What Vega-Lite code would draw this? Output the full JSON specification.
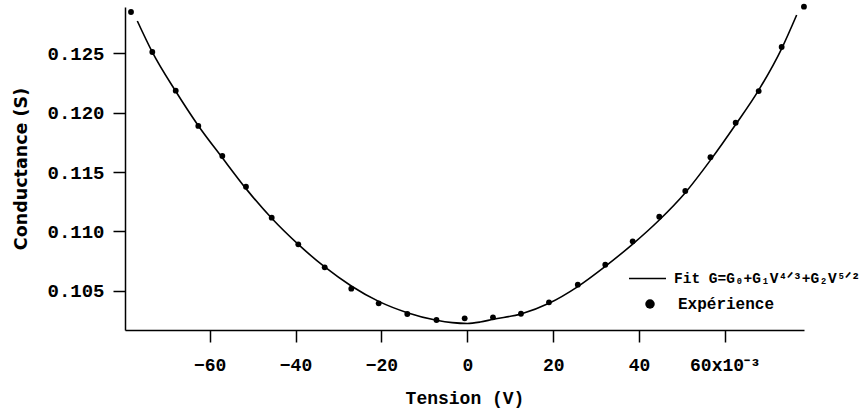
{
  "$schema": "https://vega.github.io/schema/vega-lite/v6.json",
  "width": 679,
  "height": 323,
  "autosize": {"type": "none"},
  "padding": {"left": 125, "top": 7, "right": 64, "bottom": 84},
  "background": "white",
  "config": {
    "view": {"stroke": null},
    "axis": {
      "grid": false,
      "labelFont": "Liberation Mono",
      "labelFontWeight": "bold",
      "labelFontSize": 18,
      "labelColor": "black",
      "domainColor": "black",
      "domainWidth": 1.5,
      "tickColor": "black",
      "tickWidth": 1.5,
      "tickSize": 12,
      "titleColor": "black"
    },
    "legend": {
      "labelFont": "Liberation Mono",
      "labelFontWeight": "bold",
      "labelFontSize": 16,
      "labelColor": "black",
      "labelLimit": 400
    }
  },
  "datasets": {
    "exp": [
      {"V": -78.30, "G": 0.12848, "expLabel": "Expérience"},
      {"V": -73.34, "G": 0.12511, "expLabel": "Expérience"},
      {"V": -67.89, "G": 0.12185, "expLabel": "Expérience"},
      {"V": -62.63, "G": 0.11888, "expLabel": "Expérience"},
      {"V": -57.04, "G": 0.11635, "expLabel": "Expérience"},
      {"V": -51.53, "G": 0.11376, "expLabel": "Expérience"},
      {"V": -45.54, "G": 0.11115, "expLabel": "Expérience"},
      {"V": -39.35, "G": 0.10891, "expLabel": "Expérience"},
      {"V": -33.20, "G": 0.10697, "expLabel": "Expérience"},
      {"V": -27.01, "G": 0.10517, "expLabel": "Expérience"},
      {"V": -20.63, "G": 0.10394, "expLabel": "Expérience"},
      {"V": -13.97, "G": 0.10304, "expLabel": "Expérience"},
      {"V": -7.17, "G": 0.10253, "expLabel": "Expérience"},
      {"V": -0.61, "G": 0.10267, "expLabel": "Expérience"},
      {"V": 5.98, "G": 0.10276, "expLabel": "Expérience"},
      {"V": 12.50, "G": 0.10306, "expLabel": "Expérience"},
      {"V": 19.02, "G": 0.10402, "expLabel": "Expérience"},
      {"V": 25.73, "G": 0.10551, "expLabel": "Expérience"},
      {"V": 32.13, "G": 0.10719, "expLabel": "Expérience"},
      {"V": 38.51, "G": 0.10916, "expLabel": "Expérience"},
      {"V": 44.70, "G": 0.11123, "expLabel": "Expérience"},
      {"V": 50.76, "G": 0.11340, "expLabel": "Expérience"},
      {"V": 56.62, "G": 0.11625, "expLabel": "Expérience"},
      {"V": 62.49, "G": 0.11915, "expLabel": "Expérience"},
      {"V": 67.85, "G": 0.12182, "expLabel": "Expérience"},
      {"V": 73.20, "G": 0.12553, "expLabel": "Expérience"},
      {"V": 78.39, "G": 0.12893, "expLabel": "Expérience"}
    ],
    "fit": [
      {"V": -76.83, "G": 0.12772, "fitLabel": "Fit G=G₀+G₁V⁴ᐟ³+G₂V⁵ᐟ²"},
      {"V": -73.34, "G": 0.12510, "fitLabel": "Fit G=G₀+G₁V⁴ᐟ³+G₂V⁵ᐟ²"},
      {"V": -67.89, "G": 0.12180, "fitLabel": "Fit G=G₀+G₁V⁴ᐟ³+G₂V⁵ᐟ²"},
      {"V": -62.63, "G": 0.11890, "fitLabel": "Fit G=G₀+G₁V⁴ᐟ³+G₂V⁵ᐟ²"},
      {"V": -57.04, "G": 0.11620, "fitLabel": "Fit G=G₀+G₁V⁴ᐟ³+G₂V⁵ᐟ²"},
      {"V": -51.53, "G": 0.11360, "fitLabel": "Fit G=G₀+G₁V⁴ᐟ³+G₂V⁵ᐟ²"},
      {"V": -45.54, "G": 0.11110, "fitLabel": "Fit G=G₀+G₁V⁴ᐟ³+G₂V⁵ᐟ²"},
      {"V": -39.35, "G": 0.10890, "fitLabel": "Fit G=G₀+G₁V⁴ᐟ³+G₂V⁵ᐟ²"},
      {"V": -33.20, "G": 0.10700, "fitLabel": "Fit G=G₀+G₁V⁴ᐟ³+G₂V⁵ᐟ²"},
      {"V": -27.01, "G": 0.10540, "fitLabel": "Fit G=G₀+G₁V⁴ᐟ³+G₂V⁵ᐟ²"},
      {"V": -20.63, "G": 0.10410, "fitLabel": "Fit G=G₀+G₁V⁴ᐟ³+G₂V⁵ᐟ²"},
      {"V": -13.97, "G": 0.10315, "fitLabel": "Fit G=G₀+G₁V⁴ᐟ³+G₂V⁵ᐟ²"},
      {"V": -7.17, "G": 0.10251, "fitLabel": "Fit G=G₀+G₁V⁴ᐟ³+G₂V⁵ᐟ²"},
      {"V": -3.50, "G": 0.10231, "fitLabel": "Fit G=G₀+G₁V⁴ᐟ³+G₂V⁵ᐟ²"},
      {"V": 0.0, "G": 0.10224, "fitLabel": "Fit G=G₀+G₁V⁴ᐟ³+G₂V⁵ᐟ²"},
      {"V": 3.00, "G": 0.10236, "fitLabel": "Fit G=G₀+G₁V⁴ᐟ³+G₂V⁵ᐟ²"},
      {"V": 5.98, "G": 0.10259, "fitLabel": "Fit G=G₀+G₁V⁴ᐟ³+G₂V⁵ᐟ²"},
      {"V": 12.50, "G": 0.10304, "fitLabel": "Fit G=G₀+G₁V⁴ᐟ³+G₂V⁵ᐟ²"},
      {"V": 19.02, "G": 0.10394, "fitLabel": "Fit G=G₀+G₁V⁴ᐟ³+G₂V⁵ᐟ²"},
      {"V": 25.73, "G": 0.10535, "fitLabel": "Fit G=G₀+G₁V⁴ᐟ³+G₂V⁵ᐟ²"},
      {"V": 32.13, "G": 0.10705, "fitLabel": "Fit G=G₀+G₁V⁴ᐟ³+G₂V⁵ᐟ²"},
      {"V": 38.51, "G": 0.10893, "fitLabel": "Fit G=G₀+G₁V⁴ᐟ³+G₂V⁵ᐟ²"},
      {"V": 44.70, "G": 0.11096, "fitLabel": "Fit G=G₀+G₁V⁴ᐟ³+G₂V⁵ᐟ²"},
      {"V": 50.76, "G": 0.11326, "fitLabel": "Fit G=G₀+G₁V⁴ᐟ³+G₂V⁵ᐟ²"},
      {"V": 56.62, "G": 0.11600, "fitLabel": "Fit G=G₀+G₁V⁴ᐟ³+G₂V⁵ᐟ²"},
      {"V": 62.49, "G": 0.11900, "fitLabel": "Fit G=G₀+G₁V⁴ᐟ³+G₂V⁵ᐟ²"},
      {"V": 67.85, "G": 0.12190, "fitLabel": "Fit G=G₀+G₁V⁴ᐟ³+G₂V⁵ᐟ²"},
      {"V": 73.20, "G": 0.12540, "fitLabel": "Fit G=G₀+G₁V⁴ᐟ³+G₂V⁵ᐟ²"},
      {"V": 76.69, "G": 0.12823, "fitLabel": "Fit G=G₀+G₁V⁴ᐟ³+G₂V⁵ᐟ²"}
    ]
  },
  "layer": [
    {
      "data": {"name": "fit"},
      "mark": {"type": "line", "strokeWidth": 1.6, "interpolate": "monotone", "clip": false},
      "encoding": {
        "x": {
          "field": "V", "type": "quantitative",
          "scale": {"domain": [-79.7, 78.4], "nice": false, "zero": false},
          "axis": {
            "values": [-60, -40, -20, 0, 20, 40, 60],
            "labelExpr": "datum.value == 60 ? '60x10⁻³' : datum.label",
            "labelPadding": 14,
            "title": "Tension (V)",
            "titleFont": "Liberation Mono",
            "titleFontWeight": "bold",
            "titleFontSize": 18,
            "titlePadding": 15
          }
        },
        "y": {
          "field": "G", "type": "quantitative",
          "scale": {"domain": [0.10169, 0.1289], "nice": false, "zero": false},
          "axis": {
            "values": [0.105, 0.11, 0.115, 0.12, 0.125],
            "format": ".3f",
            "labelPadding": 9,
            "labelFontSize": 19,
            "title": "Conductance (S)",
            "titleFont": "DejaVu Sans",
            "titleFontWeight": 600,
            "titleFontSize": 17.5,
            "titlePadding": 16
          }
        },
        "stroke": {
          "field": "fitLabel", "type": "nominal",
          "scale": {"range": ["black"]},
          "legend": {
            "title": null, "orient": "none", "legendX": 503, "legendY": 252,
            "symbolType": "stroke", "symbolSize": 1369, "symbolStrokeWidth": 1.6,
            "symbolStrokeColor": "black", "labelOffset": 7, "labelFontSize": 14.5
          }
        }
      }
    },
    {
      "data": {"name": "exp"},
      "mark": {"type": "point", "filled": true, "color": "black", "size": 34, "opacity": 1, "clip": false},
      "encoding": {
        "x": {"field": "V", "type": "quantitative"},
        "y": {"field": "G", "type": "quantitative"},
        "shape": {
          "field": "expLabel", "type": "nominal",
          "scale": {"range": ["circle"]},
          "legend": {
            "title": null, "orient": "none", "legendX": 517, "legendY": 289,
            "symbolSize": 90, "symbolFillColor": "black", "symbolStrokeColor": "black",
            "symbolOpacity": 1, "labelOffset": 20
          }
        }
      }
    }
  ]
}
